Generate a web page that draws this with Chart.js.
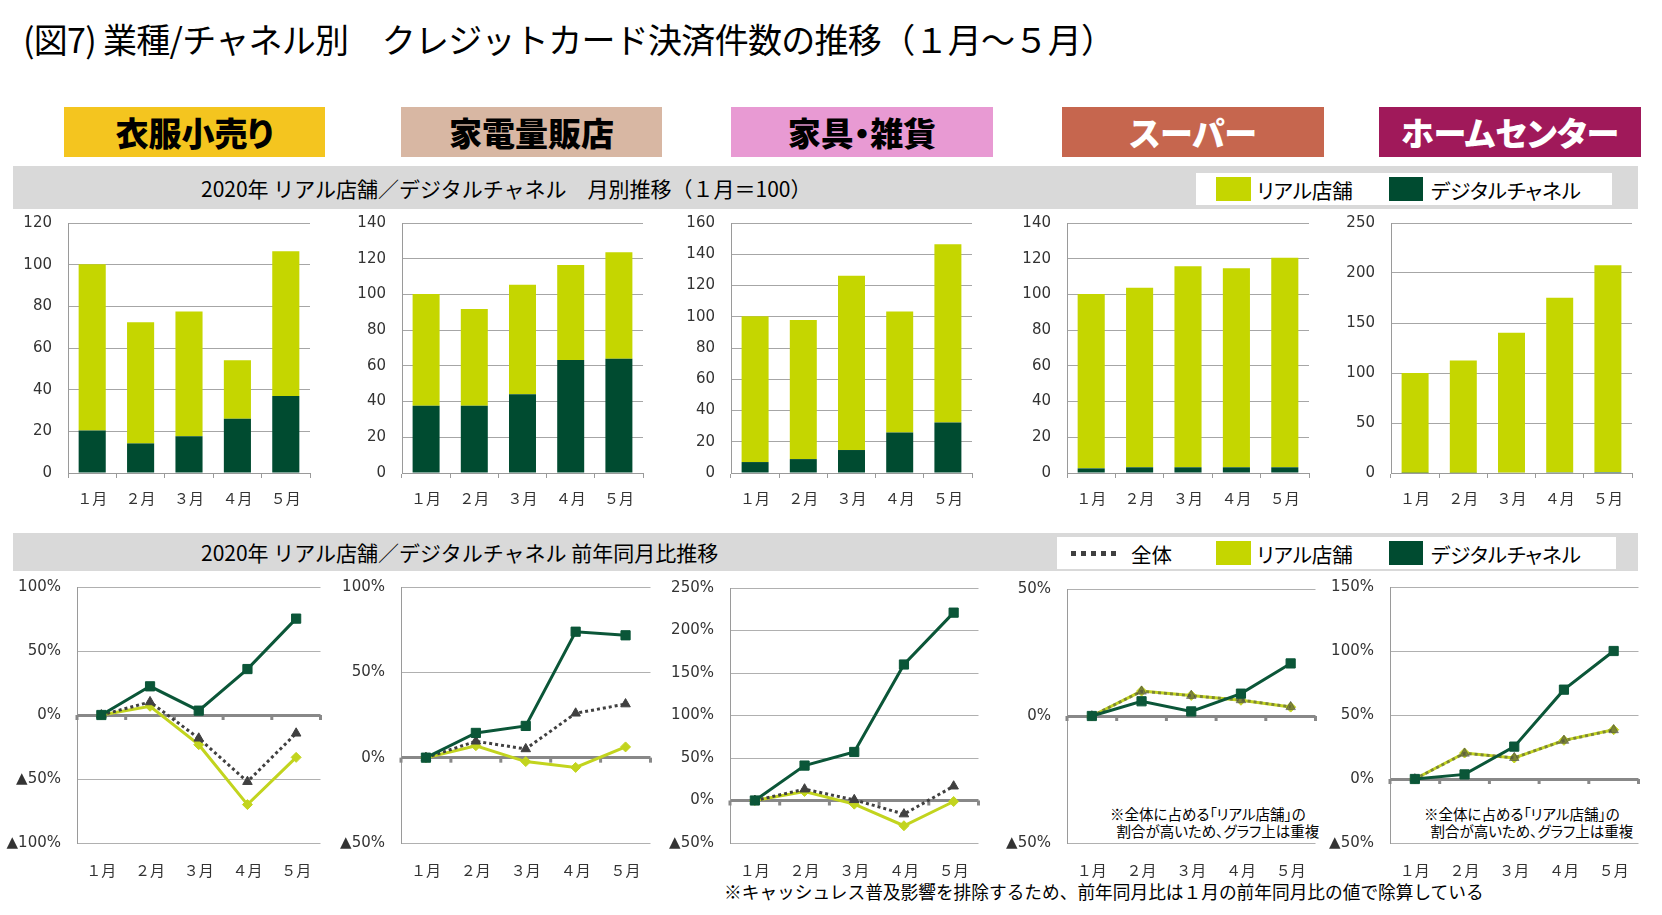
<!DOCTYPE html>
<html><head><meta charset="utf-8">
<script src="https://cdn.jsdelivr.net/npm/chart.js@4.4.1/dist/chart.umd.min.js"></script>
<style>
html,body{margin:0;padding:0;}
body{width:1662px;height:915px;background:#fff;position:relative;overflow:hidden;font-family:"Noto Sans CJK JP","Noto Sans",sans-serif;color:#000;}
.abs{position:absolute;}
.title{left:23px;top:13px;font-size:34px;line-height:52px;white-space:nowrap;font-weight:400;letter-spacing:-0.7px;}
.cat{display:flex;align-items:center;justify-content:center;font-size:33px;font-weight:900;white-space:nowrap;font-feature-settings:"palt";}
.band{background:#D9D9D9;display:flex;align-items:center;}
.band span{font-size:21px;white-space:nowrap;margin-left:188px;}
.leg{background:#fff;}
.sw{position:absolute;}
.lt{position:absolute;font-size:20.5px;white-space:nowrap;line-height:32px;font-feature-settings:"palt";}
.note{font-size:14.5px;line-height:17px;white-space:nowrap;font-feature-settings:"palt";}
.foot{font-size:17.7px;white-space:nowrap;}
</style></head><body>
<script>
// ---------------- data ----------------
const months = ["１月","２月","３月","４月","５月"];
const industries = ["衣服小売り","家電量販店","家具・雑貨","スーパー","ホームセンター"];
const seriesNames = ["全体","リアル店舗","デジタルチャネル"];

// Monthly index (Jan = 100), stacked segments
const apparelDigitalIdx     = [20.4, 14.2, 17.7, 26.0, 37.0];
const apparelRealIdx        = [79.8, 58.2, 59.8, 28.1, 69.4];
const electronicsDigitalIdx = [37.6, 37.6, 44.1, 63.3, 64.0];
const electronicsRealIdx    = [62.6, 54.2, 61.3, 53.2, 59.6];
const furnitureDigitalIdx   = [7.0, 8.9, 14.7, 26.0, 32.3];
const furnitureRealIdx      = [93.4, 89.0, 111.5, 77.4, 114.1];
const supermarketDigitalIdx = [2.6, 3.2, 3.2, 3.2, 3.2];
const supermarketRealIdx    = [97.6, 100.5, 112.6, 111.5, 117.3];
const homeCenterDigitalIdx  = [0.2, 0.3, 0.4, 0.8, 1.0];
const homeCenterRealIdx     = [99.9, 112.1, 139.9, 174.4, 206.8];

// Year-over-year change (%)
const apparelTotalYoY       = [0, 10.2, -18.2, -52.1, -14.3];
const apparelRealYoY        = [0, 6.8, -23.2, -70.0, -33.1];
const apparelDigitalYoY     = [0, 22.4, 3.4, 35.9, 75.3];
const electronicsTotalYoY   = [0, 9.6, 5.1, 26.0, 31.4];
const electronicsRealYoY    = [0, 7.0, -2.3, -5.7, 6.3];
const electronicsDigitalYoY = [0, 14.5, 18.6, 73.8, 71.7];
const furnitureTotalYoY     = [0, 13.3, 0.8, -16.0, 16.8];
const furnitureRealYoY      = [0, 10.6, -4.3, -29.7, -1.2];
const furnitureDigitalYoY   = [0, 41.1, 57.1, 160.0, 221.0];
const supermarketTotalYoY   = [0, 9.7, 8.0, 6.3, 3.6];
const supermarketRealYoY    = [0, 9.8, 8.1, 6.2, 3.5];
const supermarketDigitalYoY = [0, 5.8, 1.8, 8.8, 20.7];
const homeCenterTotalYoY    = [0, 20.0, 16.6, 30.0, 38.3];
const homeCenterRealYoY     = [0, 20.3, 16.4, 30.2, 38.5];
const homeCenterDigitalYoY  = [0, 3.6, 25.3, 69.8, 100.0];

// axis ranges / ticks
const topAxisMax = [120, 140, 160, 140, 250];
const topAxisStep = [20, 20, 20, 20, 50];
const bottomAxisMin = [-100, -50, -50, -50, -50];
const bottomAxisMax = [100, 100, 250, 50, 150];
const bottomAxisStep = [50, 50, 50, 50, 50];

// ---------------- style / layout ----------------
const REAL = '#C5D600', DIGITAL = '#004B30';
const RLINE = '#C2D41E', DLINE = '#0B5638', TLINE = '#404040';
const GRID = '#A6A6A6', AX = '#9A9A9A', ZERO = '#888888', TXT = '#333333';
const JP = '"Noto Sans CJK JP", sans-serif', NUM = '"DejaVu Sans", sans-serif';
const topRects = [[68,223,310,473],[402,223,643,473],[731,223,972,473],[1067,223,1309,473],[1391,223,1632,473]];
const bottomRects = [[77,587,320,843],[401,587,650,843],[730,588,978,843],[1067,589,1315,843],[1390,587,1638,843]];
const boxX = [[64,325],[401,662],[731,993],[1062,1324],[1379,1641]];
const boxBg = ['#F4C51F','#D8B7A3','#E89AD3','#C6664E','#A0195A'];
const boxFg = ['#000','#000','#000','#fff','#fff'];
const overlapTotal = [false,false,false,true,true];

function el(tag, cls, css, html){
  const e = document.createElement(tag);
  if (cls) e.className = cls;
  if (css) e.style.cssText = css;
  if (html !== undefined) e.innerHTML = html;
  document.body.appendChild(e);
  return e;
}

// header
el('div','abs title','','(図7) 業種/チャネル別　クレジットカード決済件数の推移（１月～５月）');
industries.forEach((name,i)=>{
  el('div','abs cat',`left:${boxX[i][0]}px;top:107px;width:${boxX[i][1]-boxX[i][0]}px;height:50px;background:${boxBg[i]};color:${boxFg[i]};`,name);
});
el('div','abs band','left:13px;top:166px;width:1625px;height:43px;','<span>2020年 リアル店舗／デジタルチャネル　月別推移（１月＝100）</span>');
el('div','abs band','left:13px;top:533px;width:1625px;height:38px;','<span>2020年 リアル店舗／デジタルチャネル 前年同月比推移</span>');

// legends
el('div','abs leg','left:1196px;top:173px;width:416px;height:32px;');
el('div','sw',`left:1216px;top:177px;width:35px;height:24px;background:${REAL};`);
el('div','lt','left:1257px;top:174px;',seriesNames[1]);
el('div','sw',`left:1389px;top:177px;width:34px;height:24px;background:${DIGITAL};`);
el('div','lt','left:1431px;top:174px;',seriesNames[2]);

el('div','abs leg','left:1057px;top:537px;width:559px;height:32px;');
el('div','sw',`left:1071px;top:551px;width:47px;height:5px;background:repeating-linear-gradient(90deg,${TLINE} 0 5px,transparent 5px 10px);`);
el('div','lt','left:1131px;top:538px;',seriesNames[0]);
el('div','sw',`left:1216px;top:541px;width:35px;height:24px;background:${REAL};`);
el('div','lt','left:1257px;top:538px;',seriesNames[1]);
el('div','sw',`left:1389px;top:541px;width:34px;height:24px;background:${DIGITAL};`);
el('div','lt','left:1431px;top:538px;',seriesNames[2]);

// notes
el('div','abs note','left:1110px;top:805px;','※全体に占める「リアル店舗」の<br>&nbsp;&nbsp;割合が高いため、グラフ上は重複');
el('div','abs note','left:1424px;top:805px;','※全体に占める「リアル店舗」の<br>&nbsp;&nbsp;割合が高いため、グラフ上は重複');
el('div','abs foot','left:724px;top:878px;','※キャッシュレス普及影響を排除するため、前年同月比は１月の前年同月比の値で除算している');

// ---------------- charts ----------------
function makeCanvas(w, h){
  const c = document.createElement('canvas');
  c.width = w; c.height = h;
  c.style.position = 'absolute';
  document.body.appendChild(c);
  return c;
}

// resize/position so the library's chart area lands on the target rectangle
function fitChart(chart, canvas, rect){
  const [l,t,r,b] = rect;
  let ca = chart.chartArea;
  const w = Math.round(canvas.width + ((r-l) - (ca.right-ca.left)));
  const h = Math.round(canvas.height + ((b-t) - (ca.bottom-ca.top)));
  chart.resize(w, h);
  ca = chart.chartArea;
  canvas.style.width = w + 'px';
  canvas.style.height = h + 'px';
  canvas.style.left = Math.round(l - ca.left) + 'px';
  canvas.style.top = Math.round(t - ca.top) + 'px';
}

const zeroTicks = {
  id:'zeroTicks',
  beforeDatasetsDraw(chart){
    const xs = chart.scales.x, ys = chart.scales.y;
    const y0 = ys.getPixelForValue(0);
    const n = chart.data.labels.length;
    const ctx = chart.ctx;
    ctx.save(); ctx.fillStyle = ZERO;
    for (let k = 0; k <= n; k++){
      const x = k === 0 ? xs.left : (k === n ? xs.right : (xs.getPixelForValue(k-1) + xs.getPixelForValue(k)) / 2);
      ctx.fillRect(x - 1.5, y0, 3, 5);
    }
    ctx.restore();
  }
};

function barChart(i, digital, real){
  const rect = topRects[i];
  const [l,t,r,b] = rect;
  const padL = 80, padR = 4, padB = 40;
  const canvas = makeCanvas(r-l+padL+padR, b-t+20+padB);
  const chart = new Chart(canvas, {
    type:'bar',
    data:{labels:months, datasets:[
      {label:seriesNames[2], data:digital, backgroundColor:DIGITAL, categoryPercentage:1, barPercentage:0.56},
      {label:seriesNames[1], data:real, backgroundColor:REAL, categoryPercentage:1, barPercentage:0.56}
    ]},
    options:{
      responsive:false, maintainAspectRatio:false, animation:false, devicePixelRatio:1,
      layout:{padding:{left:0, top:0, right:padR, bottom:0}},
      plugins:{legend:{display:false}, tooltip:{enabled:false}},
      scales:{
        x:{stacked:true, afterFit:s=>{s.height = padB;},
           grid:{offset:true, drawOnChartArea:false, drawTicks:true, tickLength:5, color:AX},
           border:{display:true, color:AX},
           ticks:{padding:11, font:{family:JP, size:15}, color:TXT}},
        y:{stacked:true, min:0, max:topAxisMax[i], afterFit:s=>{s.width = padL;},
           ticks:{stepSize:topAxisStep[i], padding:16, font:{family:NUM, size:15}, color:TXT},
           grid:{color:GRID, drawTicks:false},
           border:{display:true, color:AX}}
      }
    }
  });
  fitChart(chart, canvas, rect);
}

function lineChart(i, total, real, digital){
  const rect = bottomRects[i];
  const [l,t,r,b] = rect;
  const padL = 80, padR = 4, padB = 40;
  const canvas = makeCanvas(r-l+padL+padR, b-t+20+padB);
  const tc = overlapTotal[i] ? 'rgba(70,70,70,0.55)' : TLINE;
  const chart = new Chart(canvas, {
    type:'line',
    data:{labels:months, datasets:[
      {label:seriesNames[2], data:digital, borderColor:DLINE, backgroundColor:DLINE, borderWidth:3,
       pointStyle:'rect', pointRadius:6.5, pointBorderWidth:1, pointBorderColor:DLINE, tension:0},
      {label:seriesNames[0], data:total, borderColor:tc, backgroundColor:tc, borderWidth:3, borderDash:[3,3],
       pointStyle:'triangle', pointRadius:5.5, pointBorderWidth:1, pointBorderColor:tc, tension:0},
      {label:seriesNames[1], data:real, borderColor:RLINE, backgroundColor:RLINE, borderWidth:3,
       pointStyle:'rectRot', pointRadius:5, pointBorderWidth:1, pointBorderColor:RLINE, tension:0}
    ]},
    options:{
      responsive:false, maintainAspectRatio:false, animation:false, devicePixelRatio:1,
      layout:{padding:{left:0, top:0, right:padR, bottom:0}},
      plugins:{legend:{display:false}, tooltip:{enabled:false}},
      scales:{
        x:{offset:true, afterFit:s=>{s.height = padB;},
           grid:{display:false}, border:{display:false},
           ticks:{padding:10, font:{family:JP, size:15}, color:TXT}},
        y:{min:bottomAxisMin[i], max:bottomAxisMax[i], afterFit:s=>{s.width = padL;},
           ticks:{stepSize:bottomAxisStep[i], padding:16, font:{family:NUM, size:15}, color:TXT,
                  callback:v => (v < 0 ? '▲' + Math.abs(v) : v) + '%'},
           grid:{drawTicks:false, color:c => c.tick && c.tick.value === 0 ? ZERO : '#B0B0B0',
                 lineWidth:c => c.tick && c.tick.value === 0 ? 3 : 1},
           border:{display:true, color:AX}}
      }
    },
    plugins:[zeroTicks]
  });
  fitChart(chart, canvas, rect);
}

barChart(0, apparelDigitalIdx, apparelRealIdx);
barChart(1, electronicsDigitalIdx, electronicsRealIdx);
barChart(2, furnitureDigitalIdx, furnitureRealIdx);
barChart(3, supermarketDigitalIdx, supermarketRealIdx);
barChart(4, homeCenterDigitalIdx, homeCenterRealIdx);

lineChart(0, apparelTotalYoY, apparelRealYoY, apparelDigitalYoY);
lineChart(1, electronicsTotalYoY, electronicsRealYoY, electronicsDigitalYoY);
lineChart(2, furnitureTotalYoY, furnitureRealYoY, furnitureDigitalYoY);
lineChart(3, supermarketTotalYoY, supermarketRealYoY, supermarketDigitalYoY);
lineChart(4, homeCenterTotalYoY, homeCenterRealYoY, homeCenterDigitalYoY);
</script>
</body></html>
